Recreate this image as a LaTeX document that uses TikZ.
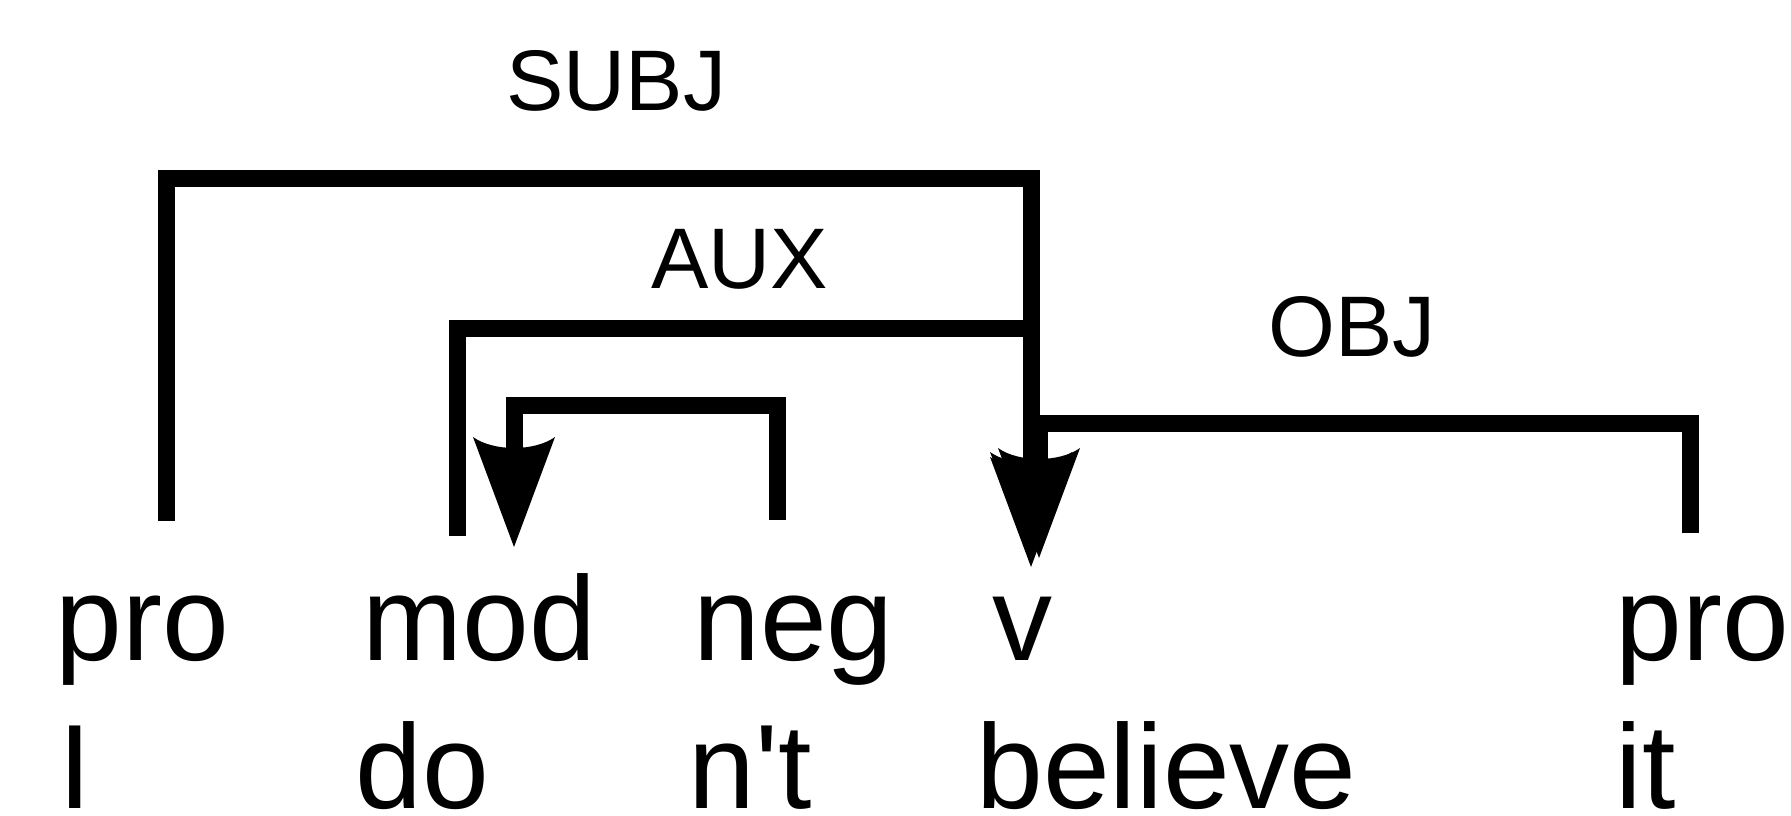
\documentclass[tikz,border=0pt]{standalone}
\usepackage{fontspec}
\setmainfont{Liberation Sans}
\usetikzlibrary{arrows.meta}
\pgfdeclarearrow{
  name = Dep,
  defaults = {length = 55pt, width = 41pt},
  parameters = {\the\pgfarrowlength,\the\pgfarrowwidth},
  setup code = {
    \pgfarrowssettipend{0pt}
    \pgfarrowssetlineend{-.7\pgfarrowlength}
    \pgfarrowssetvisualbackend{-\pgfarrowlength}
    \pgfarrowshullpoint{0pt}{0pt}
    \pgfarrowshullpoint{-\pgfarrowlength}{.5\pgfarrowwidth}
    \pgfarrowshullpoint{-\pgfarrowlength}{-.5\pgfarrowwidth}
  },
  drawing code = {
    \pgfpathmoveto{\pgfqpoint{0pt}{0pt}}
    \pgfpathlineto{\pgfpoint{-\pgfarrowlength}{.5\pgfarrowwidth}}
    \pgfpathcurveto{\pgfpoint{-.867\pgfarrowlength}{.25\pgfarrowwidth}}{\pgfpoint{-.867\pgfarrowlength}{-.25\pgfarrowwidth}}{\pgfpoint{-\pgfarrowlength}{-.5\pgfarrowwidth}}
    \pgfpathclose
    \pgfusepathqfill
  }
}
\newfontfamily\wordfont{Liberation Sans}
\begin{document}
\begin{tikzpicture}[x=0.5pt,y=-0.5pt,
  cat/.style={anchor=base west,inner sep=0pt,font=\wordfont\fontsize{60}{72}\selectfont},
  rel/.style={anchor=base west,inner sep=0pt,font=\wordfont\fontsize{43}{52}\selectfont},
  dep/.style={line width=8.5pt,line join=miter,line cap=butt},
  deparrow/.style={dep,-{Dep}}]
\useasboundingbox (0,0) rectangle (1791,815);
% category row
\node[cat] (pro1) at (55,660) {pro};
\node[cat] (mod)  at (362,660) {mod};
\node[cat] (neg)  at (693,660) {neg};
\node[cat] (v)    at (992,660) {v};
\node[cat] (pro2) at (1615,660) {pro};
% word row
\node[cat] (wI)  at (58,808) {I};
\node[cat] (wdo) at (355,808) {do};
\node[cat] (wnt) at (688,808) {n't};
\node[cat] (wbelieve) at (976,808) {believe};
\node[cat] (wit) at (1615,808) {it};
% relation labels
\node[rel] (lsubj) at (506,110) {SUBJ};
\node[rel] (laux)  at (651,288) {AUX};
\node[rel] (lobj)  at (1268,356) {OBJ};
% connector ends
\coordinate (subjS) at (166,521);
\coordinate (auxS)  at (457,536);
\coordinate (negS)  at (777,520);
\coordinate (objS)  at (1690,533);
\coordinate (modT)  at (514,547);
\coordinate (vT1)   at (1031,567);
\coordinate (vT2)   at (1031,562);
\coordinate (vT3)   at (1039,558);
% connectors
\draw[deparrow] (subjS) -- (subjS |- 0,178) -- (vT1 |- 0,178) -- (vT1);
\draw[deparrow] (auxS) -- (auxS |- 0,328) -- (vT2 |- 0,328) -- (vT2);
\draw[deparrow] (objS) -- (objS |- 0,423) -- (vT3 |- 0,423) -- (vT3);
\draw[deparrow] (negS) -- (negS |- 0,405) -- (modT |- 0,405) -- (modT);
\end{tikzpicture}
\end{document}
